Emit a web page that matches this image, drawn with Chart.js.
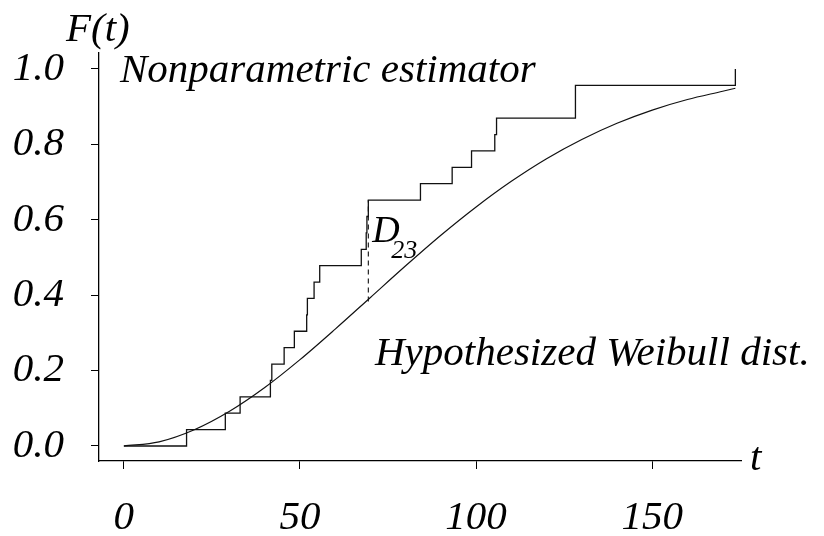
<!DOCTYPE html>
<html>
<head>
<meta charset="utf-8">
<script src="https://cdn.jsdelivr.net/npm/chart.js@4/dist/chart.umd.min.js"></script>
<style>
  html, body { margin: 0; padding: 0; background: #fff; }
  #wrap { width: 824px; height: 536px; }
</style>
</head>
<body>
<div id="wrap"><canvas id="c" width="824" height="536"></canvas></div>
<script>
// Failure times (jump points of the empirical CDF) and its heights after each jump
const jumpTimes = [0, 17.8, 28.8, 33.0, 41.6, 42.0, 45.5, 48.4, 51.9, 52.1, 54.0, 55.6,
                   67.4, 68.8, 69.0, 69.4, 84.2, 93.2, 98.7, 105.3, 105.8, 128.2, 128.2, 173.6];
const ecdfValues = [0, 0.0435, 0.0870, 0.1304, 0.1739, 0.2174, 0.2609, 0.3043, 0.3478, 0.3913,
                    0.4348, 0.4783, 0.5217, 0.5652, 0.6087, 0.6522, 0.6957, 0.7391, 0.7826,
                    0.8261, 0.8696, 0.9130, 0.9565, 1.0];

// Hypothesized Weibull CDF, sampled along t
const weibullT = [0, 10, 20, 30, 40, 50, 60, 70, 80, 90, 100, 110, 120, 130, 140, 150, 160, 170, 173.6];
const weibullF = [0, 0.011, 0.043, 0.092, 0.155, 0.229, 0.310, 0.394, 0.478, 0.559,
                  0.634, 0.702, 0.762, 0.813, 0.856, 0.891, 0.919, 0.941, 0.949];

// Largest vertical gap D_23 between the two curves
const gapT = [69.4, 69.4];
const gapF = [0.383, 0.6522];

const xTicks = [0, 50, 100, 150];
const yTicks = [0.0, 0.2, 0.4, 0.6, 0.8, 1.0];

const FONT = '"Liberation Serif", "Times New Roman", serif';

const toPoints = (xs, ys) => xs.map((x, i) => ({ x: x, y: ys[i] }));

const annotations = {
  id: 'annotations',
  afterDraw(chart) {
    const ctx = chart.ctx;
    const xs = chart.scales.x;
    ctx.save();
    ctx.fillStyle = '#000';
    ctx.textBaseline = 'alphabetic';
    ctx.textAlign = 'left';
    ctx.font = 'italic 41px ' + FONT;
    ctx.fillText('F(t)', 66, 41);
    ctx.fillText('Nonparametric estimator', 120, 82);
    ctx.fillText('Hypothesized Weibull dist.', 375, 365);
    ctx.fillText('t', 750, 470);
    const dx = xs.getPixelForValue(gapT[0]);
    ctx.font = 'italic 38px ' + FONT;
    ctx.fillText('D', dx + 4, 242);
    ctx.font = 'italic 26px ' + FONT;
    ctx.fillText('23', dx + 23, 258);
    ctx.restore();
  }
};

new Chart(document.getElementById('c'), {
  type: 'line',
  data: {
    datasets: [
      {
        data: toPoints(jumpTimes, ecdfValues),
        stepped: 'before',
        borderColor: '#111',
        borderWidth: 1.3,
        pointRadius: 0,
        fill: false
      },
      {
        data: toPoints(weibullT, weibullF),
        cubicInterpolationMode: 'monotone',
        borderColor: '#111',
        borderWidth: 1.2,
        pointRadius: 0,
        fill: false
      },
      {
        data: toPoints(gapT, gapF),
        borderColor: '#111',
        borderWidth: 1.1,
        borderDash: [5, 4],
        pointRadius: 0,
        fill: false
      }
    ]
  },
  options: {
    responsive: false,
    animation: false,
    events: [],
    layout: { padding: { top: 53, right: 83, left: 0, bottom: 0 } },
    plugins: { legend: { display: false }, tooltip: { enabled: false }, title: { display: false } },
    scales: {
      x: {
        type: 'linear',
        position: 'bottom',
        min: -7.06,
        max: 175.2,
        afterBuildTicks: s => { s.ticks = xTicks.map(v => ({ value: v })); },
        afterFit: s => { s.height = 75; },
        grid: { drawOnChartArea: false, drawTicks: true, tickLength: 8, color: '#000', lineWidth: 1 },
        border: { display: true, color: '#000', width: 1.3 },
        ticks: {
          color: '#000',
          padding: 25,
          maxRotation: 0,
          font: { family: FONT, size: 41, style: 'italic' },
          callback: v => String(v)
        }
      },
      y: {
        type: 'linear',
        position: 'left',
        min: -0.0398,
        max: 1.0424,
        afterBuildTicks: s => { s.ticks = yTicks.map(v => ({ value: v })); },
        afterFit: s => { s.width = 99; },
        grid: { drawOnChartArea: false, drawTicks: true, tickLength: 8, color: '#000', lineWidth: 1 },
        border: { display: true, color: '#000', width: 1.3 },
        ticks: {
          color: '#000',
          padding: 27,
          font: { family: FONT, size: 41, style: 'italic' },
          callback: v => Number(v).toFixed(1)
        }
      }
    }
  },
  plugins: [annotations]
});
</script>
</body>
</html>
